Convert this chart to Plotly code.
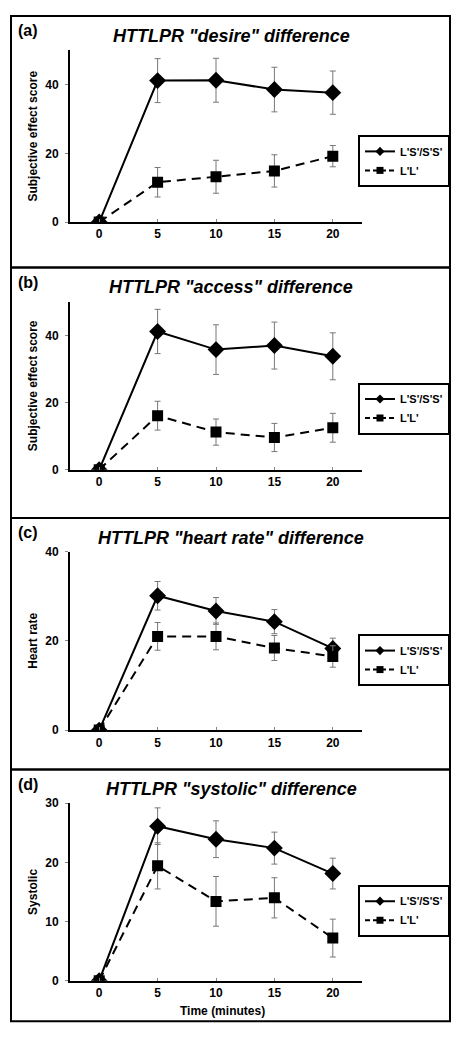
import plotly.graph_objects as go

W, H = 461, 1039

time_min = [0, 5, 10, 15, 20]
x_ticks = [0, 5, 10, 15, 20]

panel_labels = ["(a)", "(b)", "(c)", "(d)"]
panel_titles = ['HTTLPR "desire" difference', 'HTTLPR "access" difference',
                'HTTLPR "heart rate" difference', 'HTTLPR "systolic" difference']
y_titles = ["Subjective effect score", "Subjective effect score", "Heart rate", "Systolic"]
x_title = "Time (minutes)"
y_max = [50, 50, 40, 30]
y_dtick = [20, 20, 20, 10]

series_names = ["L'S'/S'S'", "L'L'"]

# L'S'/S'S' means and errors
desire_ls = [0, 41.2, 41.3, 38.6, 37.7]
desire_ls_err = [0, 6.4, 6.4, 6.5, 6.3]
access_ls = [0, 41.2, 35.8, 37.0, 33.8]
access_ls_err = [0, 6.6, 7.4, 7.0, 7.0]
hr_ls = [0, 30.1, 26.7, 24.3, 18.3]
hr_ls_err = [0, 3.2, 3.0, 2.7, 2.3]
sys_ls = [0, 26.1, 23.9, 22.4, 18.1]
sys_ls_err = [0, 3.1, 3.1, 2.7, 2.6]

# L'L' means and errors
desire_ll = [0, 11.6, 13.2, 14.9, 19.2]
desire_ll_err = [0, 4.3, 4.8, 4.7, 3.1]
access_ll = [0, 16.1, 11.2, 9.6, 12.5]
access_ll_err = [0, 4.3, 3.9, 4.2, 4.3]
hr_ll = [0, 21.0, 21.0, 18.4, 16.5]
hr_ll_err = [0, 3.1, 3.0, 2.8, 2.4]
sys_ll = [0, 19.4, 13.4, 14.0, 7.2]
sys_ll_err = [0, 3.9, 4.2, 3.4, 3.2]

ls_vals = [desire_ls, access_ls, hr_ls, sys_ls]
ls_errs = [desire_ls_err, access_ls_err, hr_ls_err, sys_ls_err]
ll_vals = [desire_ll, access_ll, hr_ll, sys_ll]
ll_errs = [desire_ll_err, access_ll_err, hr_ll_err, sys_ll_err]

# layout geometry in pixels
panel_top = [9, 264, 518, 773]
panel_bot = [264, 518, 773, 1028]
plot_top = [44, 299, 552, 807]
plot_bot = [218, 469, 733, 987]
legend_mid = [156, 407, 662, 916]
plot_left, plot_right = 70, 362
border_left, border_right = 11, 450

FONT = "Liberation Sans, Arial, sans-serif"

def px_x(p):
    return p / W

def px_y(p):
    return 1 - p / H

fig = go.Figure()
layout = dict(
    width=W, height=H, margin=dict(l=0, r=0, t=0, b=0),
    paper_bgcolor="white", plot_bgcolor="white",
    font=dict(family=FONT, color="black"),
    shapes=[], annotations=[],
)

err_style = dict(type="data", color="#777777", thickness=1, width=3)

for i in range(4):
    n = "" if i == 0 else str(i + 1)
    xa, ya = "x" + n, "y" + n
    leg = "legend" + n
    fig.add_trace(go.Scatter(
        x=time_min, y=ls_vals[i], name=series_names[0], xaxis=xa, yaxis=ya,
        mode="lines+markers", showlegend=False,
        line=dict(color="black", width=2),
        marker=dict(symbol="diamond", size=13, color="black"),
        error_y=dict(array=ls_errs[i], **err_style),
    ))
    fig.add_trace(go.Scatter(
        x=time_min, y=ll_vals[i], name=series_names[1], xaxis=xa, yaxis=ya,
        mode="lines+markers", showlegend=False,
        line=dict(color="black", width=2, dash="9px,6px"),
        marker=dict(symbol="square", size=11, color="black"),
        error_y=dict(array=ll_errs[i], **err_style),
    ))
    # legend entries (smaller symbols, like the reference legend)
    fig.add_trace(go.Scatter(
        x=[None], y=[None], name=series_names[0], xaxis=xa, yaxis=ya,
        mode="lines+markers", legend=leg,
        line=dict(color="black", width=2),
        marker=dict(symbol="diamond", size=7, color="black"),
    ))
    fig.add_trace(go.Scatter(
        x=[None], y=[None], name=series_names[1], xaxis=xa, yaxis=ya,
        mode="lines+markers", legend=leg,
        line=dict(color="black", width=2, dash="5px,3px"),
        marker=dict(symbol="square", size=7, color="black"),
    ))
    layout["xaxis" + n] = dict(
        domain=[px_x(plot_left), px_x(plot_right)], anchor=ya,
        range=[-2.5, 22.5], tickvals=x_ticks, showgrid=False, zeroline=False,
        showline=True, linecolor="black", linewidth=2,
        ticks="inside", ticklen=3, tickcolor="#888888", tickwidth=1,
        tickfont=dict(family=FONT, size=12, weight="bold"),
    )
    layout["yaxis" + n] = dict(
        domain=[px_y(plot_bot[i]), px_y(plot_top[i])], anchor=xa,
        range=[0, y_max[i]], dtick=y_dtick[i], showgrid=False, zeroline=False,
        showline=True, linecolor="black", linewidth=2,
        ticks="outside", ticklen=3, tickcolor="#888888", tickwidth=1,
        ticklabelstandoff=4,
        tickfont=dict(family=FONT, size=12, weight="bold"),
        title=dict(text=y_titles[i], font=dict(family=FONT, size=12, weight="bold"), standoff=5),
    )
    layout[leg] = dict(
        x=px_x(358), xanchor="left", y=px_y(legend_mid[i]), yanchor="middle",
        bgcolor="white", bordercolor="black", borderwidth=2,
        font=dict(family=FONT, size=11, weight="bold"),
        itemwidth=30, tracegroupgap=0,
    )
    layout["shapes"].append(dict(
        type="rect", xref="paper", yref="paper",
        x0=px_x(border_left), x1=px_x(border_right),
        y0=px_y(panel_bot[i]), y1=px_y(panel_top[i]),
        line=dict(color="black", width=2), fillcolor="rgba(0,0,0,0)",
    ))
    layout["annotations"].append(dict(
        text=panel_labels[i], xref="paper", yref="paper",
        x=px_x(16), y=px_y(panel_top[i] + 15), xanchor="left", yanchor="middle",
        showarrow=False, font=dict(family=FONT, size=16, weight="bold"),
    ))
    layout["annotations"].append(dict(
        text=panel_titles[i], xref="paper", yref="paper",
        x=px_x(231), y=px_y(panel_top[i] + 20), xanchor="center", yanchor="middle",
        showarrow=False, font=dict(family=FONT, size=18, weight="bold", style="italic"),
    ))

# x-axis title of the bottom panel
layout["annotations"].append(dict(
    text=x_title, xref="paper", yref="paper",
    x=px_x(222), y=px_y(1018), xanchor="center", yanchor="middle",
    showarrow=False, font=dict(family=FONT, size=12, weight="bold"),
))

fig.update_layout(**layout)
post = ("var g=document.getElementById('{plot_id}');"
        "g.style.position='fixed';g.style.top='0px';g.style.left='0px';"
        "document.body.style.margin='0';"
        "document.documentElement.style.overflow='hidden';")
fig.write_html("out.html", config={"displayModeBar": False}, post_script=post)
